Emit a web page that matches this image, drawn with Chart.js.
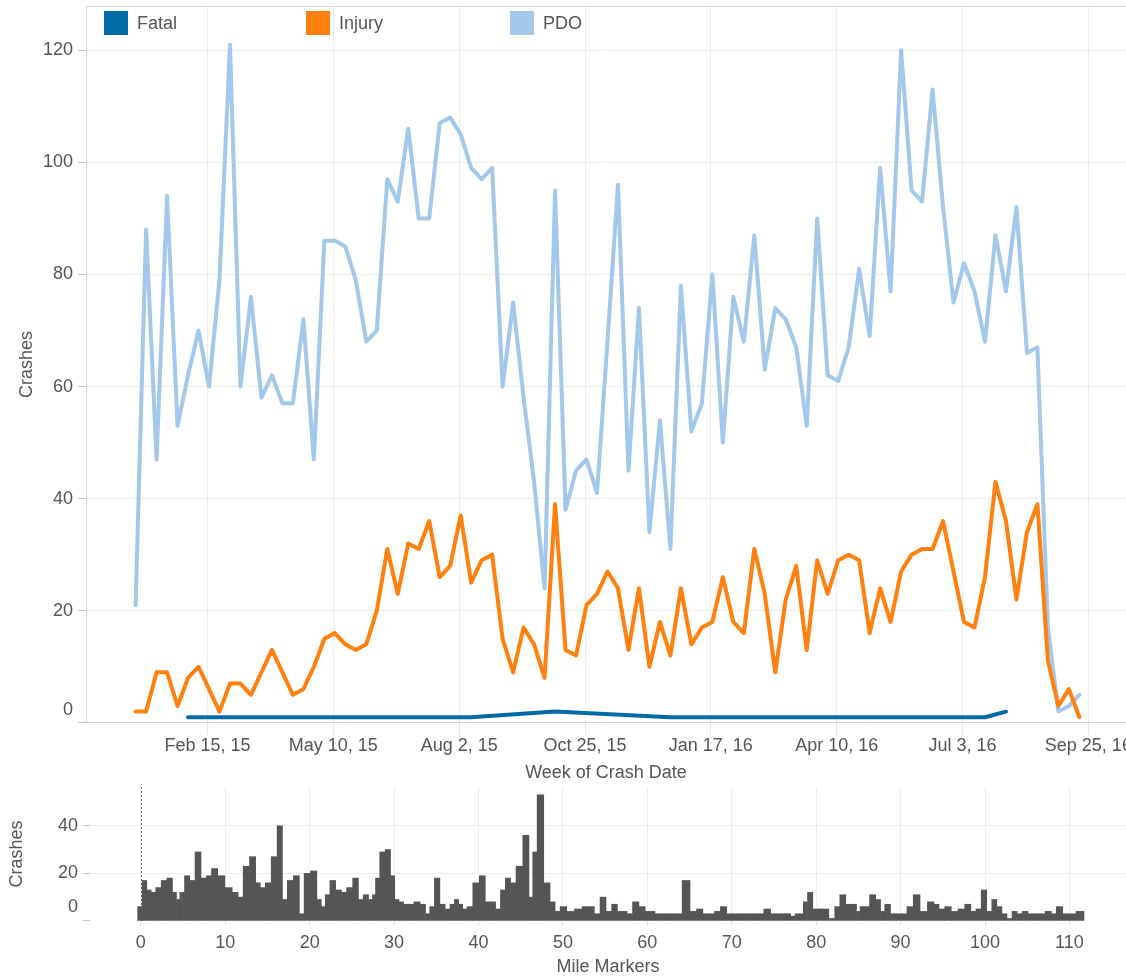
<!DOCTYPE html>
<html>
<head>
<meta charset="utf-8">
<script src="https://cdn.jsdelivr.net/npm/chart.js@4.4.1/dist/chart.umd.min.js"></script>
<style>
html,body{margin:0;padding:0;background:#fff;}
body{width:1126px;height:978px;position:relative;overflow:hidden;font-family:'Liberation Sans',Arial,sans-serif;}
#topChart{position:absolute;left:0;top:0;}
#bottomChart{position:absolute;left:0;top:780px;}
.lg{position:absolute;top:11px;height:24px;display:flex;align-items:center;font-size:18px;color:#555;white-space:nowrap;}
.lg .sw{display:inline-block;width:24px;height:24px;margin-right:9px;}
</style>
</head>
<body>
<canvas id="topChart" width="1126" height="790"></canvas>
<canvas id="bottomChart" width="1126" height="198"></canvas>
<div id="legend"></div>
<script>
// ---------- DATA ----------
// Week index 0 = week of Dec 28, 2014 (weekly); points sit on the Monday of each week
const weekDayOffset = 1 / 7;
const seriesNames = ['Fatal', 'Injury', 'PDO'];
const seriesColors = ['#006BA4', '#FF800E', '#A2C8EC'];

const pdoCounts = [21, 88, 47, 94, 53, 62, 70, 60, 79, 121,
  60, 76, 58, 62, 57, 57, 72, 47, 86, 86,
  85, 79, 68, 70, 97, 93, 106, 90, 90, 107,
  108, 105, 99, 97, 99, 60, 75, 58, 43, 24,
  95, 38, 45, 47, 41, 68, 96, 45, 74, 34,
  54, 31, 78, 52, 57, 80, 50, 76, 68, 87,
  63, 74, 72, 67, 53, 90, 62, 61, 67, 81,
  69, 99, 77, 120, 95, 93, 113, 92, 75, 82,
  77, 68, 87, 77, 92, 66, 67, 17, 2, 3, 5];

const injuryCounts = [2, 2, 9, 9, 3, 8, 10, 6, 2, 7,
  7, 5, 9, 13, 9, 5, 6, 10, 15, 16,
  14, 13, 14, 20, 31, 23, 32, 31, 36, 26,
  28, 37, 25, 29, 30, 15, 9, 17, 14, 8,
  39, 13, 12, 21, 23, 27, 24, 13, 24, 10,
  18, 12, 24, 14, 17, 18, 26, 18, 16, 31,
  23, 9, 22, 28, 13, 29, 23, 29, 30, 29,
  16, 24, 18, 27, 30, 31, 31, 36, 27, 18,
  17, 26, 43, 36, 22, 34, 39, 11, 3, 6, 1];

const fatalWeeks = [5, 32, 40, 51, 81, 83];
const fatalCounts = [1, 1, 2, 1, 1, 2];

const weekTickValues = [7, 19, 31, 43, 55, 67, 79, 91];
const weekTickLabels = ['Feb 15, 15', 'May 10, 15', 'Aug 2, 15', 'Oct 25, 15',
  'Jan 17, 16', 'Apr 10, 16', 'Jul 3, 16', 'Sep 25, 16'];
const crashTickValues = [0, 20, 40, 60, 80, 100, 120];

// Mile marker bars (bar centre, crash count)
const mileMarkers = [-0.11, 0.42, 1.0, 1.46, 2.08, 2.75, 3.45, 4.05, 4.4, 4.85,
  5.5, 6.1, 6.75, 7.5, 8.05, 8.7, 9.5, 10.4, 11.25, 11.8,
  12.45, 13.3, 13.9, 14.4, 15.1, 15.8, 16.5, 17.05, 17.65, 18.5,
  19.05, 19.65, 20.55, 21.15, 21.6, 22.1, 22.7, 23.45, 24.05, 24.7,
  25.5, 26.05, 26.65, 27.3, 27.6, 28.0, 28.6, 29.3, 29.85, 30.3,
  30.85, 31.4, 32.0, 32.7, 33.45, 34.0, 34.45, 35.1, 35.75, 36.35,
  36.9, 37.4, 37.9, 38.35, 38.95, 39.7, 40.5, 41.1, 41.7, 42.35,
  42.85, 43.5, 44.1, 44.8, 45.7, 46.25, 46.6, 47.3, 48.15, 48.8,
  49.35, 50.0, 50.9, 51.85, 52.7, 53.4, 54.05, 54.75, 55.45, 56.1,
  56.8, 57.3, 57.9, 58.6, 59.4, 60.1, 60.6, 61.2, 61.8, 62.4,
  63.0, 63.6, 64.65, 65.45, 66.2, 66.95, 67.6, 68.3, 69.0, 69.8,
  70.4, 71.0, 71.6, 72.2, 72.8, 73.4, 74.2, 75.0, 75.6, 76.2,
  76.7, 77.25, 77.75, 78.25, 78.7, 79.25, 79.95, 80.5, 81.1, 81.9,
  82.5, 83.1, 83.9, 84.5, 85.05, 85.35, 85.95, 86.7, 87.4, 87.85,
  88.4, 89.2, 89.8, 90.4, 91.1, 91.9, 92.7, 93.65, 94.25, 94.85,
  95.6, 96.4, 97.2, 98.0, 98.65, 99.2, 99.9, 100.5, 101.1, 101.7,
  102.3, 102.9, 103.5, 104.1, 104.7, 105.5, 106.1, 106.7, 107.55, 108.15,
  108.75, 109.65, 110.3, 111.25];
const mileCrashes = [6, 17, 13, 12, 14, 17, 18, 12, 9, 12,
  19, 17, 29, 18, 19, 22, 19, 14, 12, 10,
  23, 27, 16, 14, 16, 27, 40, 9, 17, 19,
  3, 20, 21, 9, 6, 11, 17, 13, 12, 14,
  18, 9, 11, 9, 11, 18, 29, 30, 19, 9,
  8, 7, 7, 8, 7, 3, 6, 18, 7, 5,
  7, 9, 7, 5, 6, 16, 19, 8, 8, 5,
  13, 18, 16, 23, 36, 10, 29, 53, 16, 8,
  4, 6, 4, 5, 6, 6, 3, 10, 4, 7,
  4, 4, 3, 8, 6, 4, 4, 3, 3, 3,
  3, 3, 17, 4, 5, 3, 3, 4, 6, 3,
  3, 3, 3, 3, 3, 3, 5, 3, 3, 3,
  3, 2, 3, 3, 8, 12, 5, 5, 5, 1,
  6, 11, 7, 7, 4, 6, 6, 11, 9, 4,
  7, 3, 3, 3, 6, 11, 4, 8, 7, 5,
  6, 4, 5, 7, 4, 5, 13, 4, 9, 6,
  3, 1, 4, 3, 4, 3, 3, 3, 4, 3,
  6, 3, 3, 4];
const mileTickValues = [0, 10, 20, 30, 40, 50, 60, 70, 80, 90, 100, 110];
const mileCrashTickValues = [0, 20, 40];

// ---------- STYLE ----------
const TXT = '#555555';
const GRID = '#ececec';
const FONT = "'Liberation Sans', Arial, sans-serif";
Chart.defaults.font.family = FONT;
Chart.defaults.color = TXT;

// Legend (HTML, real text)
const legendLefts = [104, 306, 510];
const lg = document.getElementById('legend');
seriesNames.forEach((n, i) => {
  const d = document.createElement('div');
  d.className = 'lg';
  d.style.left = legendLefts[i] + 'px';
  d.innerHTML = '<span class="sw" style="background:' + seriesColors[i] + '"></span>' + n;
  lg.appendChild(d);
});

const topBorder = {
  id: 'topBorder',
  beforeDatasetsDraw(chart) {
    const {ctx, chartArea} = chart;
    ctx.save();
    ctx.strokeStyle = '#d9d9d9';
    ctx.lineWidth = 1;
    ctx.beginPath();
    ctx.moveTo(chartArea.left, chartArea.top + 0.5);
    ctx.lineTo(chartArea.right, chartArea.top + 0.5);
    ctx.stroke();
    ctx.restore();
  }
};

const lineStyle = {borderWidth: 4, pointRadius: 0, pointHoverRadius: 0, tension: 0,
  borderJoinStyle: 'round', borderCapStyle: 'round', fill: false};

new Chart(document.getElementById('topChart'), {
  type: 'line',
  data: {
    datasets: [
      Object.assign({label: seriesNames[0], borderColor: seriesColors[0], backgroundColor: seriesColors[0],
        data: fatalWeeks.map((w, i) => ({x: w + weekDayOffset, y: fatalCounts[i]}))}, lineStyle),
      Object.assign({label: seriesNames[1], borderColor: seriesColors[1], backgroundColor: seriesColors[1],
        data: injuryCounts.map((v, i) => ({x: i + weekDayOffset, y: v}))}, lineStyle),
      Object.assign({label: seriesNames[2], borderColor: seriesColors[2], backgroundColor: seriesColors[2],
        data: pdoCounts.map((v, i) => ({x: i + weekDayOffset, y: v}))}, lineStyle)
    ]
  },
  options: {
    responsive: false, animation: false, devicePixelRatio: 1,
    layout: {padding: {top: 6, left: 0, right: 0, bottom: 0}},
    plugins: {legend: {display: false}, tooltip: {enabled: false}},
    scales: {
      x: {
        type: 'linear', min: -4.587, max: 94.59,
        afterBuildTicks: s => { s.ticks = weekTickValues.map(v => ({value: v})); },
        afterFit: s => { s.height = 67.2; s.paddingLeft = 0; s.paddingRight = 0; },
        ticks: {callback: (v, i) => weekTickLabels[i], font: {size: 18}, color: TXT, padding: 0,
          maxRotation: 0, autoSkip: false},
        grid: {color: GRID, tickLength: 12, tickColor: '#e4e4e4'},
        border: {display: true, color: '#d4d4d4', width: 1},
        title: {display: true, text: 'Week of Crash Date', font: {size: 18}, color: TXT,
          padding: {top: 0, bottom: 6}}
      },
      y: {
        type: 'linear', min: 0, max: 127.9,
        afterBuildTicks: s => { s.ticks = crashTickValues.map(v => ({value: v})); },
        afterFit: s => { s.width = 86; s.paddingTop = 0; s.paddingBottom = 0; },
        ticks: {callback: v => v === 0 ? ['0', ''] : String(v), font: {size: 18, lineHeight: '26px'},
          color: TXT, padding: 5},
        grid: {color: GRID, tickLength: 8, tickColor: '#c4c4c4'},
        border: {display: true, color: '#d4d4d4', width: 1},
        title: {display: true, text: 'Crashes', font: {size: 18}, color: TXT, padding: {top: 16, bottom: 0}}
      }
    }
  },
  plugins: [topBorder]
});

const zeroLine = {
  id: 'zeroLine',
  beforeDatasetsDraw(chart) {
    const {ctx, chartArea, scales} = chart;
    const x = Math.round(scales.x.getPixelForValue(0)) + 0.5;
    ctx.save();
    ctx.strokeStyle = '#666';
    ctx.lineWidth = 1;
    ctx.setLineDash([2, 2]);
    ctx.beginPath();
    ctx.moveTo(x, chartArea.top);
    ctx.lineTo(x, chartArea.bottom);
    ctx.stroke();
    ctx.restore();
  }
};

new Chart(document.getElementById('bottomChart'), {
  type: 'bar',
  data: {
    datasets: [{
      label: 'Crashes',
      data: mileMarkers.map((m, i) => ({x: m, y: mileCrashes[i]})),
      backgroundColor: '#555555', borderWidth: 0,
      barThickness: 'flex', categoryPercentage: 1, barPercentage: 1
    }]
  },
  options: {
    responsive: false, animation: false, devicePixelRatio: 1,
    layout: {padding: {top: 7, left: 0, right: 0, bottom: 0}},
    plugins: {legend: {display: false}, tooltip: {enabled: false}},
    scales: {
      x: {
        type: 'linear', min: -6.02, max: 116.7, offset: false,
        afterBuildTicks: s => { s.ticks = mileTickValues.map(v => ({value: v})); },
        afterFit: s => { s.height = 57.1; s.paddingLeft = 0; s.paddingRight = 0; },
        ticks: {callback: v => String(v), font: {size: 18}, color: TXT, padding: 6, maxRotation: 0, autoSkip: false},
        grid: {color: GRID, tickLength: 5, tickColor: '#e4e4e4', offset: false},
        border: {display: false},
        title: {display: true, text: 'Mile Markers', font: {size: 18}, color: TXT, padding: {top: 0, bottom: 0}}
      },
      y: {
        type: 'linear', min: 0, max: 56.3,
        afterBuildTicks: s => { s.ticks = mileCrashTickValues.map(v => ({value: v})); },
        afterFit: s => { s.width = 90; s.paddingTop = 0; s.paddingBottom = 0; },
        ticks: {callback: v => v === 0 ? ['0', ''] : String(v), font: {size: 18, lineHeight: '28px'},
          color: TXT, padding: 5},
        grid: {color: c => (c.tick && c.tick.value === 0) ? 'rgba(0,0,0,0)' : GRID, tickLength: 7, tickColor: '#c4c4c4'},
        border: {display: false},
        title: {display: true, text: 'Crashes', font: {size: 18}, color: TXT, padding: {top: 6, bottom: 0}}
      }
    }
  },
  plugins: [zeroLine]
});
</script>
</body>
</html>
